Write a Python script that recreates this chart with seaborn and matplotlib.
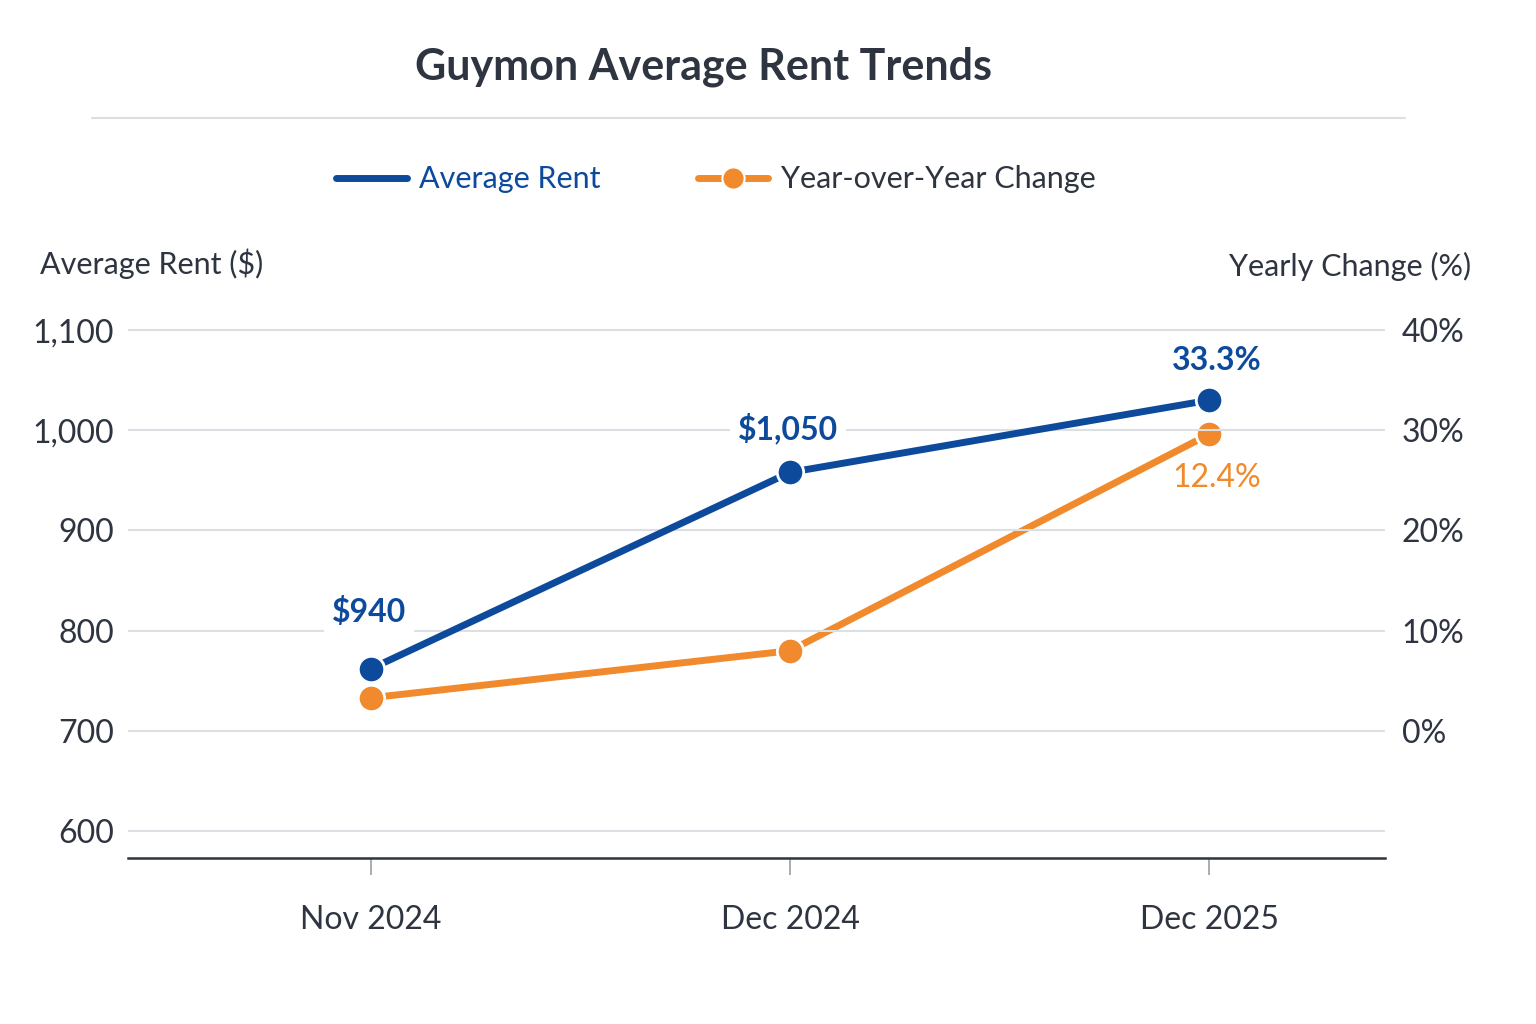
import matplotlib
matplotlib.use("Agg")
import matplotlib.pyplot as plt
from matplotlib.lines import Line2D
import pandas as pd
import seaborn as sns

# data
months = ["Nov 2024", "Dec 2024", "Dec 2025"]
avg_rent = [762, 958, 1030]
yoy_change = [3.3, 8.0, 29.6]
rent_labels = ["$940", "$1,050", "33.3%"]
yoy_labels = ["", "", "12.4%"]
left_ticks = [600, 700, 800, 900, 1000, 1100]
right_ticks = [0, 10, 20, 30, 40]

BLUE = "#0d4a9c"
ORANGE = "#f08a2c"
TEXT = "#2e3540"
GRID = "#dcdfe3"

sns.set_theme(style="white")
plt.rcParams["font.family"] = ["Lato", "DejaVu Sans"]

df = pd.DataFrame({"month": months, "rent": avg_rent, "yoy": yoy_change})

fig = plt.figure(figsize=(15.36, 10.24), dpi=100)
ax = fig.add_axes([0.0833, 0.162, 0.8184, 0.545])
ax2 = ax.twinx()

ax.set_ylim(573, 1130)
ax2.set_ylim((573 - 700) / 10, (1130 - 700) / 10)
ax.set_xlim(-0.58, 2.42)

# gridlines
for t in left_ticks:
    ax.axhline(t, color=GRID, lw=1.5, zorder=0)

sns.lineplot(data=df, x="month", y="yoy", ax=ax2, color=ORANGE, lw=5,
             marker="o", markersize=19, markeredgecolor="white",
             markeredgewidth=2, sort=False, zorder=3)
sns.lineplot(data=df, x="month", y="rent", ax=ax, color=BLUE, lw=5,
             marker="o", markersize=19, markeredgecolor="white",
             markeredgewidth=2, sort=False, zorder=4)
ax.set_zorder(ax2.get_zorder() + 1)
ax.patch.set_visible(False)

# point labels
offs = [(-2, 57), (-2, 44), (8, 40)]
for i, (lab, (dx, dy)) in enumerate(zip(rent_labels, offs)):
    ax.annotate(lab, (i, avg_rent[i]), xytext=(dx, dy), textcoords="offset pixels",
                ha="center", va="center", fontsize=23, fontweight="bold", color=BLUE,
                bbox=dict(boxstyle="square,pad=0.25", fc="white", ec="none"))
for i, lab in enumerate(yoy_labels):
    if lab:
        ax2.annotate(lab, (i, yoy_change[i]), xytext=(8, -44), textcoords="offset pixels",
                     ha="center", va="center", fontsize=23, color=ORANGE)

# axes styling
for a in (ax, ax2):
    for s in ("top", "left", "right"):
        a.spines[s].set_visible(False)
    a.set_xlabel("")
    a.set_ylabel("")
ax.spines["bottom"].set_color(TEXT)
ax.spines["bottom"].set_linewidth(1.8)
ax2.spines["bottom"].set_visible(False)

ax.set_yticks(left_ticks)
ax.set_yticklabels([f"{t:,}" for t in left_ticks])
ax2.set_yticks(right_ticks)
ax2.set_yticklabels([f"{t}%" for t in right_ticks])
ax.tick_params(axis="y", length=0, pad=10, labelsize=23, labelcolor=TEXT)
ax2.tick_params(axis="y", length=0, pad=12, labelsize=23, labelcolor=TEXT)
ax.tick_params(axis="x", length=12, width=1.2, color="#9aa0a6", pad=22,
               labelsize=23, labelcolor=TEXT, bottom=True)

# title, rule, axis titles
fig.text(0.458, 0.935, "Guymon Average Rent Trends", ha="center", va="center",
         fontsize=31, fontweight="bold", color=TEXT)
fig.add_artist(Line2D([0.06, 0.915], [0.885, 0.885], color=GRID, lw=1.5))
fig.text(0.026, 0.742, "Average Rent ($)", ha="left", va="center", fontsize=22, color=TEXT)
fig.text(0.958, 0.74, "Yearly Change (%)", ha="right", va="center", fontsize=22, color=TEXT)

# legend
handles = [Line2D([], [], color=BLUE, lw=5),
           Line2D([], [], color=ORANGE, lw=5, marker="o", markersize=16,
                  markeredgecolor="white", markeredgewidth=1.5)]
leg = fig.legend(handles, ["Average Rent", "Year-over-Year Change"], loc="center",
                 bbox_to_anchor=(0.466, 0.825), ncol=2, frameon=False, fontsize=22,
                 handlelength=2.3, columnspacing=3.2, handletextpad=0.4)
leg.get_texts()[0].set_color(BLUE)
leg.get_texts()[1].set_color(TEXT)

fig.savefig("out.png", dpi=100, facecolor="white")
